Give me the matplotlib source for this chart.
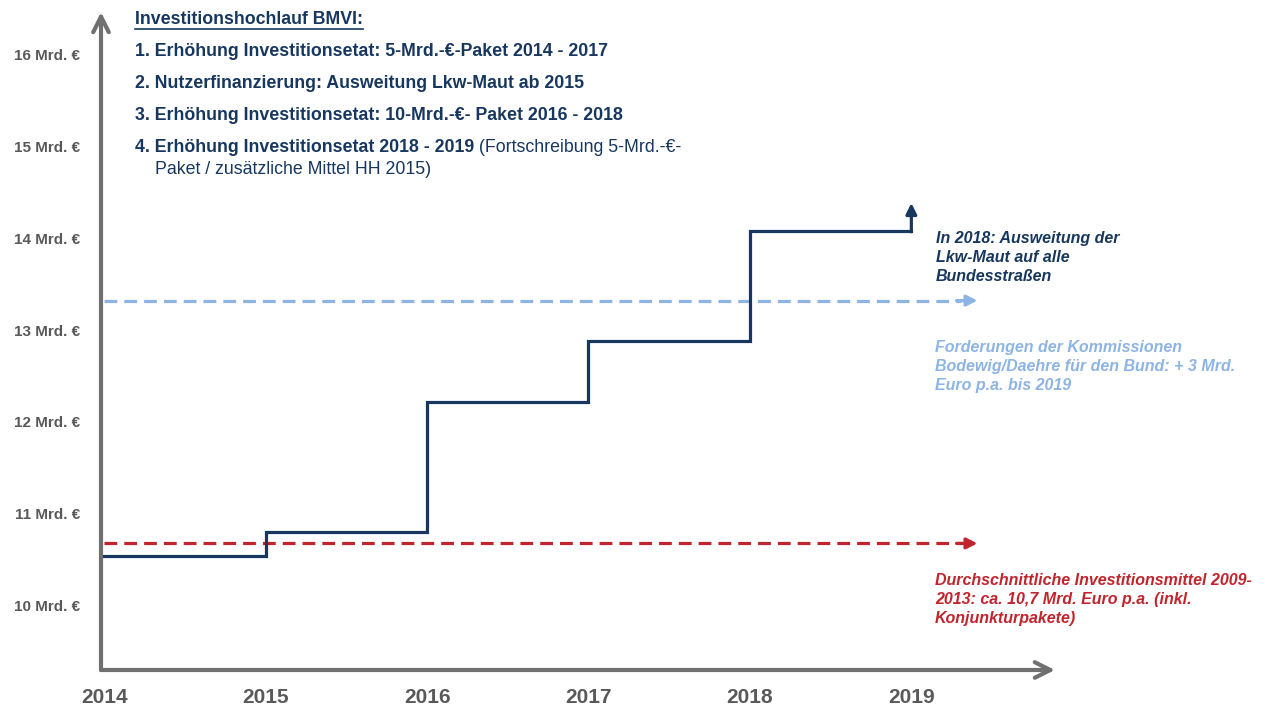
import matplotlib.pyplot as plt
from matplotlib.lines import Line2D

plt.rcParams['font.family'] = ['Liberation Sans', 'DejaVu Sans']

years = [2014, 2015, 2016, 2017, 2018, 2019]
budget = [10.54, 10.80, 12.22, 12.88, 14.08]  # Mrd. Euro je Jahr (Stufen)
avg_2009_2013 = 10.68
kommission = 13.32
ytick_vals = [10, 11, 12, 13, 14, 15, 16]
ytick_labels = ["%d Mrd. €" % v for v in ytick_vals]

navy = "#17375e"
red = "#c0252d"
lblue = "#8eb4e3"
axgray = "#707070"
txtgray = "#595959"

W, H = 1267, 706
fig = plt.figure(figsize=(W / 100, H / 100), dpi=100)
ax = fig.add_axes([101 / W, (H - 670) / H, (1055 - 101) / W, (670 - 12) / H])
ax.set_xlim(2013.98, 2019.89)
ax.set_ylim(9.304, 16.457)
for s in ax.spines.values():
    s.set_visible(False)

# axes drawn as arrows
ax.annotate('', xy=(0, 1), xytext=(0, 0), xycoords='axes fraction',
            arrowprops=dict(arrowstyle='->', lw=3, color=axgray, mutation_scale=28,
                            shrinkA=0, shrinkB=0))
ax.annotate('', xy=(1, 0), xytext=(0, 0), xycoords='axes fraction',
            arrowprops=dict(arrowstyle='->', lw=3, color=axgray, mutation_scale=28,
                            shrinkA=0, shrinkB=0))

ax.set_yticks(ytick_vals)
ax.set_yticklabels(ytick_labels, fontsize=11, fontweight='bold', color=txtgray)
ax.set_xticks(years)
ax.set_xticklabels([str(y) for y in years], fontsize=15, fontweight='bold', color=txtgray)
ax.tick_params(axis='y', length=0, pad=15)
ax.tick_params(axis='x', length=0, pad=13)

# reference lines
ax.plot([years[0], 2019.31], [kommission] * 2, color=lblue, lw=2.3, dashes=(4, 2.2))
ax.annotate('', xy=(2019.41, kommission), xytext=(2019.28, kommission),
            arrowprops=dict(arrowstyle='-|>', lw=2.3, color=lblue, mutation_scale=16,
                            shrinkA=0, shrinkB=0))
ax.plot([years[0], 2019.31], [avg_2009_2013] * 2, color=red, lw=2.3, dashes=(4, 2.2))
ax.annotate('', xy=(2019.41, avg_2009_2013), xytext=(2019.28, avg_2009_2013),
            arrowprops=dict(arrowstyle='-|>', lw=2.3, color=red, mutation_scale=16,
                            shrinkA=0, shrinkB=0))

# investment steps
ax.step(years, budget + [budget[-1]], where='post', color=navy, lw=2.3,
        solid_joinstyle='miter')
ax.annotate('', xy=(years[-1], budget[-1] + 0.3), xytext=(years[-1], budget[-1] - 0.012),
            arrowprops=dict(arrowstyle='-|>', lw=2.3, color=navy, mutation_scale=16,
                            shrinkA=0, shrinkB=0))

# header text
def fy(py):
    return 1 - py / H

hsize = 12.8
title = fig.text(135 / W, fy(19), "Investitionshochlauf BMVI:", fontsize=hsize,
                 fontweight='bold', color=navy, va='center')
items = ["1. Erhöhung Investitionsetat: 5-Mrd.-€-Paket 2014 - 2017",
         "2. Nutzerfinanzierung: Ausweitung Lkw-Maut ab 2015",
         "3. Erhöhung Investitionsetat: 10-Mrd.-€- Paket 2016 - 2018"]
for i, t in enumerate(items):
    fig.text(135 / W, fy(51 + 32.5 * i), t, fontsize=hsize, fontweight='bold',
             color=navy, va='center')
t4 = fig.text(135 / W, fy(148), "4. Erhöhung Investitionsetat 2018 - 2019", fontsize=hsize,
              fontweight='bold', color=navy, va='center')
cont = fig.text(0, 0, " (Fortschreibung 5-Mrd.-€-", fontsize=hsize, color=navy,
                va='bottom')
fig.text(155 / W, fy(170), "Paket / zusätzliche Mittel HH 2015)", fontsize=hsize,
         color=navy, va='center')

# side notes
note_kw = dict(fontsize=11.5, fontweight='bold', fontstyle='italic', va='top',
               linespacing=1.32)
fig.text(936 / W, fy(231), "In 2018: Ausweitung der\nLkw-Maut auf alle\nBundesstraßen",
         color=navy, **note_kw)
fig.text(935 / W, fy(340), "Forderungen der Kommissionen\nBodewig/Daehre für den Bund: + 3 Mrd.\n"
         "Euro p.a. bis 2019", color=lblue, **note_kw)
fig.text(935 / W, fy(573), "Durchschnittliche Investitionsmittel 2009-\n2013: ca. 10,7 Mrd. "
         "Euro p.a. (inkl.\nKonjunkturpakete)", color=red, **note_kw)

# place the normal-weight continuation of item 4 and underline the title
fig.canvas.draw()
r = fig.canvas.get_renderer()
bb4 = t4.get_window_extent(r)
cont.set_transform(None)
cont.set_position((bb4.x1, bb4.y0 + 1))
bbt = title.get_window_extent(r)
fig.add_artist(Line2D([bbt.x0, bbt.x1], [bbt.y0 - 1, bbt.y0 - 1], transform=None,
                      color=navy, lw=1.2))

fig.savefig("out.png", dpi=100)
